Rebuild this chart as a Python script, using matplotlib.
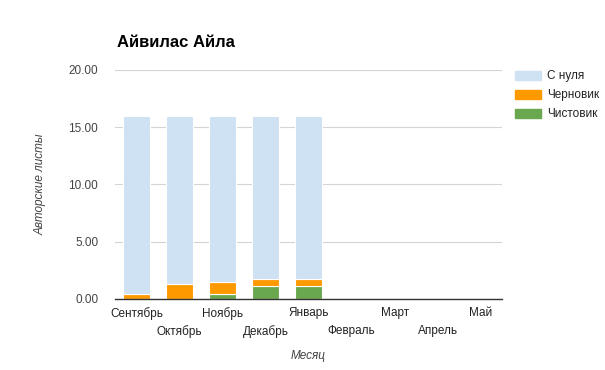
import numpy as np
import matplotlib.pyplot as plt
from matplotlib.patches import Patch

plt.rcParams['font.family'] = ['Liberation Sans', 'DejaVu Sans']

months = ["Сентябрь", "Октябрь", "Ноябрь", "Декабрь", "Январь",
          "Февраль", "Март", "Апрель", "Май"]
clean = [0.0, 0.0, 0.4, 1.1, 1.1, 0, 0, 0, 0]
draft = [0.4, 1.3, 1.1, 0.6, 0.6, 0, 0, 0, 0]
scratch = [15.6, 14.7, 14.5, 14.3, 14.3, 0, 0, 0, 0]
yticks = [0, 5, 10, 15, 20]

c_scratch = "#cfe2f3"
c_draft = "#ff9900"
c_clean = "#6aa84f"

fig = plt.figure(figsize=(6.05, 3.7), dpi=100)
ax = fig.add_axes([0.19, 0.192, 0.64, 0.619])

x = np.arange(len(months))
w = 0.63
clean = np.array(clean)
draft = np.array(draft)
scratch = np.array(scratch)
ax.bar(x, clean, w, color=c_clean, edgecolor="white", linewidth=0.8, zorder=3)
ax.bar(x, draft, w, bottom=clean, color=c_draft, edgecolor="white", linewidth=0.8, zorder=3)
ax.bar(x, scratch, w, bottom=clean + draft, color=c_scratch, edgecolor="white", linewidth=0.8, zorder=3)

ax.set_xlim(-0.5, len(months) - 0.5)
ax.set_ylim(0, 20)
ax.set_yticks(yticks)
ax.set_yticklabels(["%.2f" % v for v in yticks], color="#444444", fontsize=8.5)
ax.yaxis.grid(True, color="#d4d4d4", linewidth=0.8, zorder=0)
ax.tick_params(axis="y", length=0, pad=12)
ax.tick_params(axis="x", length=0, pad=6)
for s in ["top", "right", "left"]:
    ax.spines[s].set_visible(False)
ax.spines["bottom"].set_color("#333333")
ax.spines["bottom"].set_linewidth(1.0)
ax.spines["bottom"].set_zorder(4)

# staggered month labels: every second one goes to a lower row
ax.set_xticks(x)
ax.set_xticklabels(months, color="#222222", fontsize=8.5)
for tick in ax.xaxis.get_major_ticks()[1::2]:
    tick.set_pad(18.5)

ax.set_ylabel("Авторские листы", fontsize=8.5, style="italic", color="#444444", labelpad=16)
ax.set_xlabel("Месяц", fontsize=8.5, style="italic", color="#444444", labelpad=9)
fig.text(0.193, 0.872, "Айвилас Айла", fontsize=12, fontweight="bold", color="#000000")

handles = [Patch(color=c_scratch), Patch(color=c_draft), Patch(color=c_clean)]
fig.legend(handles, ["С нуля", "Черновик", "Чистовик"], loc="upper left",
           bbox_to_anchor=(0.851, 0.81), frameon=False, fontsize=8.5,
           borderpad=0, borderaxespad=0,
           handlelength=2.2, handleheight=0.8, handletextpad=0.5, labelspacing=0.6,
           labelcolor="#222222")

fig.savefig("out.png", dpi=100)
